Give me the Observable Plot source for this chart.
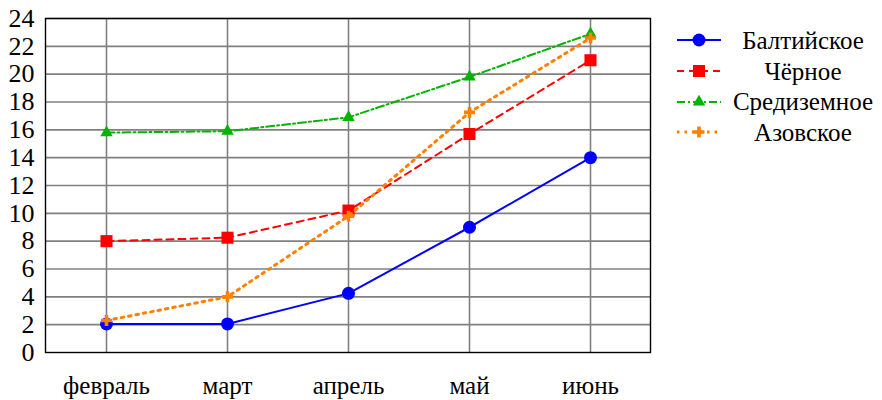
<!DOCTYPE html>
<html>
<head>
<meta charset="utf-8">
<script src="https://cdn.jsdelivr.net/npm/d3@7"></script>
<script src="https://cdn.jsdelivr.net/npm/@observablehq/plot@0.6"></script>
<style>
  body { margin: 0; background: #fff; }
  #wrap { position: relative; width: 882px; height: 400px; font-family: "Liberation Serif", "DejaVu Serif", "Times New Roman", serif; }
  #wrap > svg { position: absolute; left: 0; top: 0; }
  #wrap svg text { font-family: "Liberation Serif", "DejaVu Serif", "Times New Roman", serif; }
  #legend { position: absolute; left: 672px; top: 25px; width: 210px; }
  .row { display: flex; align-items: center; height: 30.7px; }
  .row span { flex: 1; text-align: center; font-size: 25px; color: #000; line-height: 1; }
</style>
</head>
<body>
<div id="wrap"><div id="legend"></div></div>
<script>
const months = ["февраль", "март", "апрель", "май", "июнь"];
const seriesNames = ["Балтийское", "Чёрное", "Средиземное", "Азовское"];
const baltic = [2.05, 2.05, 4.25, 9.0, 14.0];
const black = [8.0, 8.25, 10.2, 15.7, 21.0];
const medit = [15.8, 15.9, 16.9, 19.8, 22.9];
const azov = [2.3, 4.0, 9.8, 17.25, 22.6];
const yTicks = [0, 2, 4, 6, 8, 10, 12, 14, 16, 18, 20, 22, 24];

const styles = [
  {color: "#0000ff", dash: null, width: 2, symbol: "circle", r: 6.5},
  {color: "#ff0000", dash: "7,5", width: 2, symbol: "square", r: 6.8},
  {color: "#00b400", dash: "8,3,2,3", width: 2, symbol: "triangle", r: 4.6},
  {color: "#ff8000", dash: "2.5,5", width: 3, symbol: "cross", r: 4.6}
];
const values = [baltic, black, medit, azov];
const rows = [];
values.forEach((vals, si) => vals.forEach((v, i) => rows.push({series: seriesNames[si], si, month: months[i], value: v})));

const marks = [
  Plot.gridX(months, {stroke: "#808080", strokeOpacity: 1, strokeWidth: 1.6}),
  Plot.gridY(yTicks.slice(1), {stroke: "#808080", strokeOpacity: 1, strokeWidth: 1.6}),
  Plot.frame({stroke: "#000", strokeWidth: 1.4}),
  Plot.axisY(yTicks, {tickSize: 0, tickPadding: 11, fontSize: 26, fill: "#000", label: null}),
  Plot.axisX(months, {tickSize: 0, tickPadding: 24, fontSize: 25, fill: "#000", label: null})
];
styles.forEach((s, si) => {
  const d = rows.filter(r => r.si === si);
  marks.push(Plot.line(d, {x: "month", y: "value", stroke: s.color, strokeWidth: s.width,
    strokeDasharray: s.dash, curve: "linear"}));
  marks.push(Plot.dot(d, {x: "month", y: "value", symbol: () => s.symbol, fill: s.color, stroke: "none", r: s.r}));
});

const chart = Plot.plot({
  width: 882, height: 400,
  marginLeft: 45, marginRight: 232, marginTop: 18, marginBottom: 48,
  style: {fontFamily: "'Liberation Serif', 'DejaVu Serif', serif", background: "#fff", overflow: "visible"},
  x: {type: "point", domain: months, padding: 0.5, axis: null, label: null},
  y: {domain: [0, 24], axis: null, label: null},
  symbol: {domain: ["circle","square","triangle","cross"], range: ["circle","square","triangle","cross"]},
  marks
});
document.getElementById("wrap").prepend(chart);

const legend = d3.select("#legend");
styles.forEach((s, si) => {
  const row = legend.append("div").attr("class", "row");
  const svg = row.append("svg").attr("width", 52).attr("height", 24);
  svg.append("line").attr("x1", 5).attr("x2", 49).attr("y1", 12).attr("y2", 12)
    .attr("stroke", s.color).attr("stroke-width", s.width).attr("stroke-dasharray", s.dash);
  const sym = {circle: d3.symbolCircle, square: d3.symbolSquare, triangle: d3.symbolTriangle, cross: d3.symbolCross}[s.symbol];
  svg.append("path").attr("transform", "translate(27,12)")
    .attr("d", d3.symbol(sym, Math.PI * s.r * s.r)()).attr("fill", s.color);
  row.append("span").text(seriesNames[si]);
});
</script>
</body>
</html>
